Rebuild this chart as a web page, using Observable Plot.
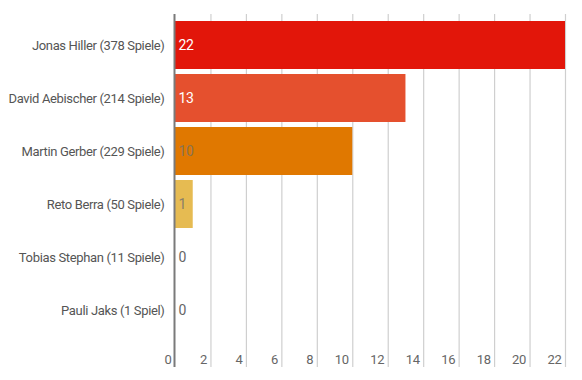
<!DOCTYPE html>
<html><head><meta charset="utf-8">
<script src="https://cdn.jsdelivr.net/npm/d3@7"></script>
<script src="https://cdn.jsdelivr.net/npm/@observablehq/plot@0.6"></script>
<style>
html,body{margin:0;padding:0;background:#fff;}
svg{font-family:"Roboto",sans-serif;}
</style></head>
<body><div id="chart"></div>
<script>
const players = ["Jonas Hiller (378 Spiele)","David Aebischer (214 Spiele)","Martin Gerber (229 Spiele)","Reto Berra (50 Spiele)","Tobias Stephan (11 Spiele)","Pauli Jaks (1 Spiel)"];
const values = [22, 13, 10, 1, 0, 0];
const barColors = ["#e2160a", "#e5502e", "#e07800", "#e6bb52", "#cccccc", "#cccccc"];
const labelColors = ["#ffffff", "#ffffff", "#8a7350", "#8a7f6a", "#666666", "#666666"];
const xTicks = [0,2,4,6,8,10,12,14,16,18,20,22];

const data = players.map((p,i)=>({player:p, value:values[i], color:barColors[i], lc:labelColors[i]}));

const chart = Plot.plot({
  width: 582, height: 380,
  marginLeft: 175, marginRight: 17, marginTop: 14, marginBottom: 13,
  style: {fontFamily: '"Roboto",sans-serif', fontSize: "13px", color: "#555", letterSpacing: "-0.35px"},
  x: {domain: [0, 22], axis: null},
  y: {domain: players, range: [14, 341.5], padding: 0.1, label: null},
  marks: [
    Plot.ruleX(xTicks.filter(d=>d>0), {stroke: "#cfcfcf", strokeWidth: 1.2}),
    Plot.barX(data, {x: "value", y: "player", fill: "color"}),
    Plot.ruleX([0], {stroke: "#7a7a7a", strokeWidth: 2, dx: -1}),
    Plot.text(data, {x: 0, y: "player", text: d=>String(d.value), fill: "lc", textAnchor: "start", dx: 3, fontSize: 14, fontWeight: d=>d.value>10?"bold":"normal"}),
    Plot.text(xTicks, {x: d=>d, text: d=>String(d), frameAnchor: "bottom", lineAnchor: "bottom", textAnchor: "end", dx: -4, dy: -4, fill: "#666", fontSize: 13}),
    Plot.axisY({tickSize: 0, tickPadding: 11, fontSize: 13, fill: "#555"})
  ]
});
document.getElementById("chart").appendChild(chart);
</script></body></html>
